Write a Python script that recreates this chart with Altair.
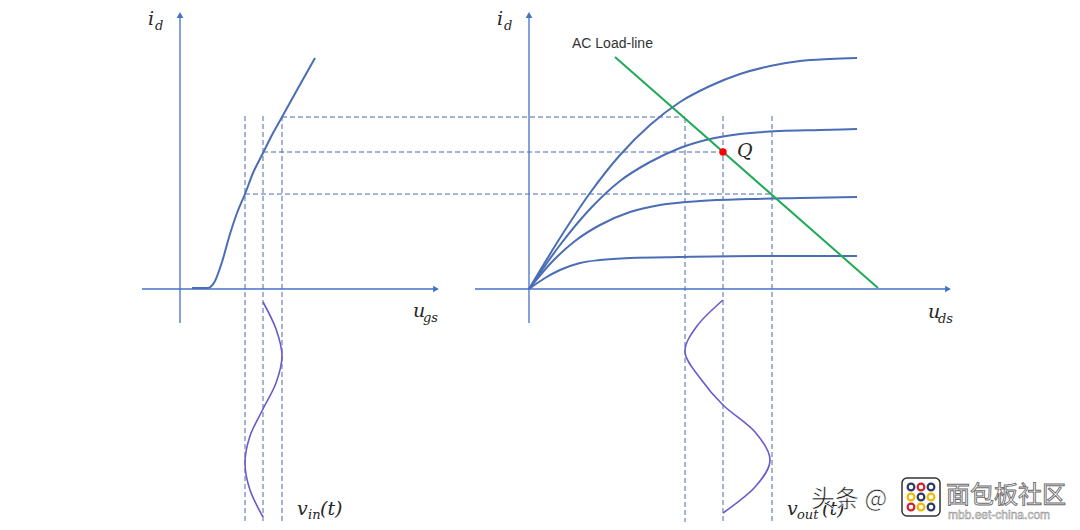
import altair as alt
import pandas as pd

# Diagram, in canvas units (x to the right, y downward)
# Transfer characteristic i_d(u_gs)
transfer_x = [192, 208, 215, 222, 230, 237, 245, 253, 263, 272, 282, 297, 315]
transfer_y = [288, 288, 281, 262, 234, 213, 194, 173, 153, 135, 117, 90, 58]

# Output characteristics i_d(u_ds), four gate voltages
out_x = {
    "c1": [529, 560, 590, 620, 650, 680, 710, 740, 770, 800, 830, 857],
    "c2": [529, 560, 590, 620, 650, 680, 710, 740, 780, 820, 857],
    "c3": [529, 550, 575, 600, 630, 660, 700, 750, 800, 857],
    "c4": [529, 545, 560, 580, 600, 630, 680, 760, 857],
}
out_y = {
    "c1": [289, 238, 193, 155, 125, 102, 86, 74, 66, 61, 59, 58],
    "c2": [289, 245, 209, 181, 162, 148, 139, 134, 131, 130, 129],
    "c3": [289, 264, 241, 225, 212, 205, 201, 199, 198, 197],
    "c4": [289, 278, 270, 263, 260, 258, 257, 256, 256],
}

# AC load line
load_x = [615, 878]
load_y = [57, 288]

# Q point
q_x = [723]
q_y = [152]

# Input signal v_in(t) and output signal v_out(t)
vin_x = [263, 276, 282, 276, 263, 250, 245, 250, 263]
vin_y = [302, 329, 356, 383, 409, 436, 463, 490, 517]
vout_x = [723, 697, 685, 700, 723, 755, 770, 755, 723]
vout_y = [300, 326, 352, 378, 405, 432, 460, 487, 513]

# Axes (segments) and arrow tips
axis_x1 = [180, 142, 529, 475]
axis_x2 = [180, 436, 529, 948]
axis_y1 = [323, 289, 323, 289]
axis_y2 = [15, 289, 15, 289]
arrow_up_x = [180, 529]
arrow_up_y = [15, 15]
arrow_right_x = [436, 948]
arrow_right_y = [289, 289]

# Dashed projection lines
dash_x1 = [245, 263, 282, 685, 723, 772, 282, 263, 245]
dash_x2 = [245, 263, 282, 685, 723, 772, 685, 723, 772]
dash_y1 = [116, 116, 116, 118, 116, 116, 117, 152, 194]
dash_y2 = [540, 540, 540, 540, 540, 540, 117, 152, 194]

# Labels
main_txt = ["i", "i", "u", "u", "v", "v", "(t)", "(t)", "Q"]
main_x = [148, 497, 413, 928, 297, 787, 320, 822, 737]
main_y = [25, 25, 317, 318, 515, 515, 515, 515, 157]
sub_txt = ["d", "d", "gs", "ds", "in", "out"]
sub_x = [155, 504, 423, 938, 308, 797]
sub_y = [30, 30, 322, 323, 519, 519]

note_txt = ["AC Load-line"]
note_x = [572]
note_y = [48]

# Watermark
wm_txt = ["头条 @"]
wm_x = [811]
wm_y = [507]
wm2_txt = ["面包板社区"]
wm2_x = [946]
wm2_y = [503]
wm3_txt = ["mbb.eet-china.com"]
wm3_x = [948]
wm3_y = [519]
logo_x1, logo_x2, logo_y1, logo_y2 = [902], [940], [478], [516]
logo_dot_x = [911, 921, 931, 911, 921, 931, 911, 921, 931]
logo_dot_y = [487, 487, 487, 497, 497, 497, 507, 507, 507]
logo_dot_c = ["#2B3A67", "#D0202A", "#2B3A67", "#F2B900", "#2B3A67", "#F2B900",
              "#D0202A", "#F2B900", "#2B3A67"]

AX = "#4472C4"
CURVE = "#4A6DB6"

xs = alt.Scale(domain=[8, 1072])
ys = alt.Scale(domain=[522, 8])


def X(f="x"):
    return alt.X(f"{f}:Q", scale=xs, axis=None)


def Y(f="y"):
    return alt.Y(f"{f}:Q", scale=ys, axis=None)


def pts(x, y, name="s"):
    return pd.DataFrame({"x": x, "y": y, "s": name, "o": list(range(len(x)))})


transfer = alt.Chart(pts(transfer_x, transfer_y)).mark_line(
    color=CURVE, strokeWidth=2, interpolate="monotone"
).encode(x=X(), y=Y(), order="o:Q")

out_df = pd.concat([pts(out_x[k], out_y[k], k) for k in out_x])
outputs = alt.Chart(out_df).mark_line(
    color=CURVE, strokeWidth=2, interpolate="monotone"
).encode(x=X(), y=Y(), detail="s:N", order="o:Q")

load = alt.Chart(pts(load_x, load_y)).mark_line(
    color="#1EAA55", strokeWidth=2
).encode(x=X(), y=Y(), order="o:Q")

sig_df = pd.concat([pts(vin_x, vin_y, "in"), pts(vout_x, vout_y, "out")])
signals = alt.Chart(sig_df).mark_line(
    color="#6A5BCB", strokeWidth=1.6, interpolate="cardinal"
).encode(x=X(), y=Y(), detail="s:N", order="o:Q")

seg_axes = pd.DataFrame({"x": axis_x1, "x2": axis_x2, "y": axis_y1, "y2": axis_y2})
axes = alt.Chart(seg_axes).mark_rule(color=AX, strokeWidth=1.3).encode(
    x=X(), x2="x2:Q", y=Y(), y2="y2:Q"
)
up = alt.Chart(pts(arrow_up_x, arrow_up_y)).mark_point(
    shape="triangle-up", filled=True, color=AX, size=45, opacity=1
).encode(x=X(), y=Y())
right = alt.Chart(pts(arrow_right_x, arrow_right_y)).mark_point(
    shape="triangle-right", filled=True, color=AX, size=45, opacity=1
).encode(x=X(), y=Y())

seg_dash = pd.DataFrame({"x": dash_x1, "x2": dash_x2, "y": dash_y1, "y2": dash_y2})
dashes = alt.Chart(seg_dash).mark_rule(
    color="#4A6AB0", strokeWidth=1, strokeDash=[5, 3]
).encode(x=X(), x2="x2:Q", y=Y(), y2="y2:Q")

q = alt.Chart(pts(q_x, q_y)).mark_point(
    shape="circle", filled=True, color="#FF0000", size=55, opacity=1
).encode(x=X(), y=Y())


def txt(t, x, y):
    return pd.DataFrame({"t": t, "x": x, "y": y})


main_lbl = alt.Chart(txt(main_txt, main_x, main_y)).mark_text(
    align="left", baseline="alphabetic", font="DejaVu Serif",
    fontStyle="italic", fontSize=19, color="#262626"
).encode(x=X(), y=Y(), text="t:N")
sub_lbl = alt.Chart(txt(sub_txt, sub_x, sub_y)).mark_text(
    align="left", baseline="alphabetic", font="DejaVu Serif",
    fontStyle="italic", fontSize=13, color="#262626"
).encode(x=X(), y=Y(), text="t:N")
note = alt.Chart(txt(note_txt, note_x, note_y)).mark_text(
    align="left", baseline="alphabetic", font="Liberation Sans",
    fontSize=14, color="#333333"
).encode(x=X(), y=Y(), text="t:N")

wm1 = alt.Chart(txt(wm_txt, wm_x, wm_y)).mark_text(
    align="left", baseline="alphabetic", font="Noto Sans CJK SC",
    fontSize=24, color="#111111", stroke="white", strokeWidth=0.6
).encode(x=X(), y=Y(), text="t:N")
logo_df = pd.DataFrame({"x": logo_x1, "x2": logo_x2, "y": logo_y1, "y2": logo_y2})
logo = alt.Chart(logo_df).mark_rect(
    fill="white", stroke="#333333", strokeWidth=1.5, cornerRadius=5
).encode(x=X(), x2="x2:Q", y=Y(), y2="y2:Q")
logo_dots = alt.Chart(
    pd.DataFrame({"x": logo_dot_x, "y": logo_dot_y, "c": logo_dot_c})
).mark_point(shape="circle", filled=False, size=45, strokeWidth=2.2, opacity=1).encode(
    x=X(), y=Y(), color=alt.Color("c:N", scale=None)
)
wm2 = alt.Chart(txt(wm2_txt, wm2_x, wm2_y)).mark_text(
    align="left", baseline="alphabetic", font="Noto Sans CJK SC",
    fontSize=24, color="white", stroke="#6a6a6a", strokeWidth=0.9
).encode(x=X(), y=Y(), text="t:N")
wm3 = alt.Chart(txt(wm3_txt, wm3_x, wm3_y)).mark_text(
    align="left", baseline="alphabetic", font="Liberation Sans",
    fontSize=12, color="#f4f4f4", stroke="#8a8a8a", strokeWidth=0.5
).encode(x=X(), y=Y(), text="t:N")

chart = alt.layer(
    dashes, axes, up, right, transfer, outputs, load, signals, q,
    main_lbl, sub_lbl, note, wm1, logo, logo_dots, wm2, wm3
).properties(
    width=1064, height=514, padding=0,
    autosize=alt.AutoSizeParams(type="none"),
).configure_view(stroke=None)

chart.save("out.html", embed_options={"renderer": "svg", "actions": False})
